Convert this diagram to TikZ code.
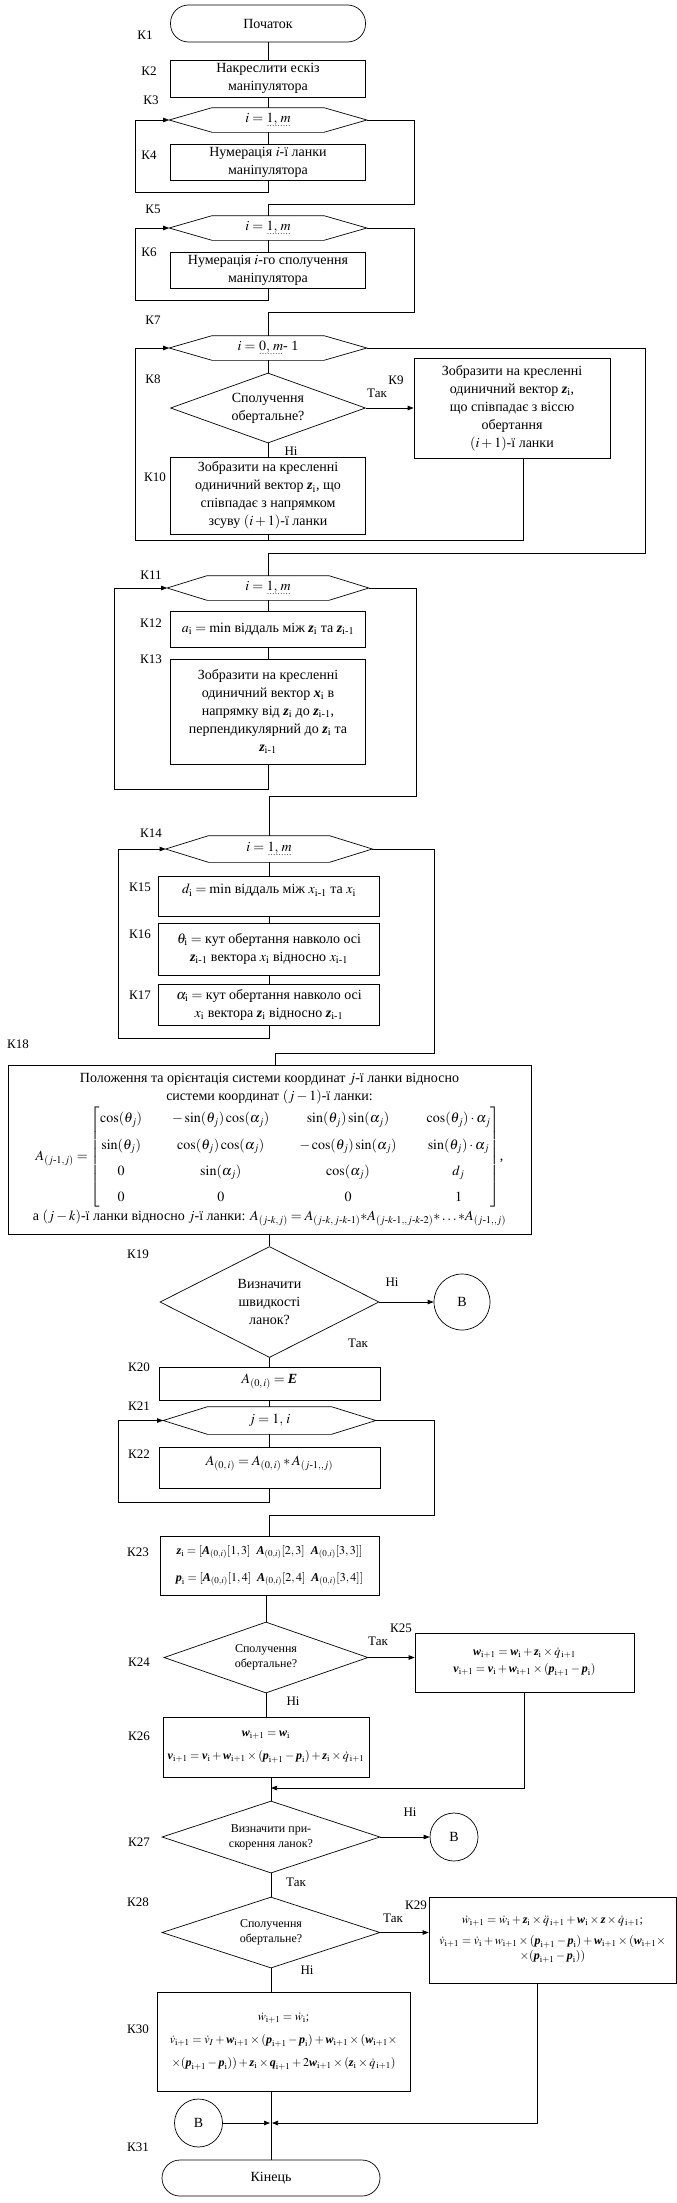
\documentclass[tikz,border=0pt]{standalone}
\usepackage{amsmath}
\usepackage{mathptmx}
\usepackage{fontspec}
\setmainfont{Liberation Serif}
\usetikzlibrary{arrows.meta,shapes.geometric}

\newcommand{\fsbig}{\fontsize{14}{18}\selectfont}
\newcommand{\fsmid}{\fontsize{13}{16}\selectfont}
\newcommand{\fssmall}{\fontsize{12}{15}\selectfont}
\newcommand{\bv}[1]{\mbox{\bfseries\itshape #1}}
\newcommand{\idx}{\mathrm{i}}
\newcommand{\hy}{\text{-}}
% dotted underline
\newcommand{\dotul}[1]{\setbox0=\hbox{#1}\leavevmode\rlap{\raisebox{-4pt}{\hbox to \wd0{\fontsize{8}{8}\selectfont\xleaders\hbox to 2.5pt{\hss.\hss}\hfil}}}\box0}
% hexagon round a plain node: #1 name, #2 point length
\newcommand{\hexa}[2]{%
  \draw (#1.north west) -- (#1.north east) -- ([xshift=#2pt]#1.east) coordinate (#1-r)
    -- (#1.south east) -- (#1.south west) -- ([xshift=-#2pt]#1.west) coordinate (#1-l) -- cycle;}

\tikzset{
  proc/.style={draw, align=center, inner sep=1pt, font=\fsbig},
  term/.style={proc, rounded corners=18pt},
  hexnode/.style={align=center, inner sep=0pt, minimum height=24, font=\fsbig},
  dec/.style={draw, diamond, align=center, inner sep=0pt, font=\fsbig},
  conn/.style={draw, circle, inner sep=0pt, minimum size=#1, font=\fsbig},
  klabel/.style={font=\fsmid, inner sep=0pt},
  yn/.style={font=\fsmid, inner sep=0pt},
  arr/.style={-{Triangle[length=6pt,width=4.5pt]}}
}

\begin{document}
\begin{tikzpicture}[x=1pt, y=-1pt, line width=0.7pt]
\useasboundingbox (0,0) rectangle (677,2203);

% block labels
\foreach \n/\x/\y in {1/145/35, 2/149/71, 3/151/100, 4/149/155, 5/153/209, 6/149/252,
  7/153/320, 8/153/379, 9/396/380, 10/155/477, 11/151/575, 12/151/623, 13/151/659,
  14/151/833, 15/140/887, 16/140/934, 17/140/995, 18/18/1044, 19/138/1254, 20/139/1367,
  21/139/1406, 22/139/1454, 23/138/1552, 24/139/1662, 25/401/1628, 26/139/1736,
  27/139/1842, 28/138/1902, 29/416/1905, 30/138/2029, 31/138/2147}
  \node[klabel] (lab\n) at (\x,\y) {К\n};

% start, sketch
\node[term, minimum width=195, minimum height=37] (K1) at (268,23.5) {Початок};
\node[proc, minimum width=195, minimum height=37] (K2) at (268,78.5) {Накреслити ескіз\\маніпулятора};
\draw (K1) -- (K2);

% numbering of links
\node[hexnode, minimum width=111] (K3) at (268,120) {$i =$ \dotul{$1,\, m$}};
\hexa{K3}{43}
\node[proc, minimum width=195, minimum height=36] (K4) at (268,162) {Нумерація $i$-ї ланки\\маніпулятора};
\draw (K2) -- (K3);
\draw (K3) -- (K4);
\coordinate (L3) at (135,192);
\draw[arr] (K4.south) |- (L3) |- (K3-l);

% numbering of joints
\node[hexnode, minimum width=111] (K5) at (268,228) {$i =$ \dotul{$1,\, m$}};
\hexa{K5}{43}
\coordinate (R3) at (414,204);
\draw (K3-r) -| (R3) -| (K5.north);
\node[proc, minimum width=195, minimum height=36] (K6) at (268,270) {Нумерація $i$-го сполучення\\маніпулятора};
\draw (K5) -- (K6);
\coordinate (L5) at (135,300);
\draw[arr] (K6.south) |- (L5) |- (K5-l);

% z axes
\node[hexnode, minimum width=111] (K7) at (268,348) {$i =$ \dotul{$0,\, m$} - 1};
\hexa{K7}{43}
\coordinate (R5) at (414,312);
\draw (K5-r) -| (R5) -| (K7.north);
\node[dec, aspect=2.79, minimum width=195, minimum height=70] (K8) at (268,408) {Сполучення\\обертальне?};
\draw (K7) -- (K8);
\node[proc, minimum width=196, minimum height=100] (K9) at (512,408) {Зобразити на кресленні\\одиничний вектор $\bv{z}_\idx$,\\що співпадає з віссю\\обертання\\$(i+1)$-ї ланки};
\draw[arr] (K8.east) -- (K9.west);
\node[yn] (yes8) at (377,393) {Так};
\node[proc, minimum width=195, minimum height=77] (K10) at (268,495.5) {Зобразити на кресленні\\одиничний вектор $\bv{z}_\idx$, що\\співпадає з напрямком\\зсуву $(i+1)$-ї ланки};
\draw (K8.south) -- (K10.north);
\node[yn] (no8) at (291,451) {Ні};
\coordinate (L7) at (135,540);
\draw ([xshift=11pt]K9.south) |- (L7);
\draw (K10.south) -- (K10.south |- L7);
\draw[arr] (L7) |- (K7-l);

% x axes
\node[hexnode, minimum width=121] (K11) at (268,588) {$i =$ \dotul{$1,\, m$}};
\hexa{K11}{40}
\coordinate (R7) at (645,553);
\draw (K7-r) -| (R7) -| (K11.north);
\node[proc, minimum width=195, minimum height=36] (K12) at (268,629) {$a_\idx = \min$ віддаль між $\bv{z}_\idx$ та $\bv{z}_{\idx\hy1}$};
\node[proc, minimum width=195, minimum height=105] (K13) at (268,711.5) {Зобразити на кресленні\\одиничний вектор $\bv{x}_\idx$ в\\напрямку від $\bv{z}_\idx$ до $\bv{z}_{\idx\hy1}$,\\перпендикулярний до $\bv{z}_\idx$ та\\$\bv{z}_{\idx\hy1}$};
\draw (K11) -- (K12);
\draw (K12) -- (K13);
\coordinate (L11) at (114,789);
\draw[arr] (K13.south) |- (L11) |- (K11-l);

% parameters
\node[hexnode, minimum width=120, minimum height=26] (K14) at (269,849) {$i =$ \dotul{$1,\, m$}};
\hexa{K14}{43}
\coordinate (R11) at (416,796);
\draw (K11-r) -| (R11) -| (K14.north);
\node[proc, minimum width=221, minimum height=40, text depth=14pt] (K15) at (269,896) {$d_\idx = \min$ віддаль між $x_{\idx\hy1}$ та $x_\idx$};
\node[proc, minimum width=221, minimum height=52] (K16) at (269,949) {$\theta_\idx =$ кут обертання навколо осі\\$\bv{z}_{\idx\hy1}$ вектора $x_\idx$ відносно $x_{\idx\hy1}$};
\node[proc, minimum width=221, minimum height=41] (K17) at (269,1004.5) {$\alpha_\idx =$ кут обертання навколо осі\\$x_\idx$ вектора $\bv{z}_\idx$ відносно $\bv{z}_{\idx\hy1}$};
\draw (K14) -- (K15);
\draw (K15) -- (K16);
\draw (K16) -- (K17);
\coordinate (L14) at (118,1038);
\draw[arr] (K17.south) |- (L14) |- (K14-l);

% transformation matrices
\node[proc, minimum width=523, minimum height=169] (K18) at (269.5,1149.5) {Положення та орієнтація системи координат $j$-ї ланки відносно\\системи координат $(j-1)$-ї ланки:\\
{\renewcommand{\arraystretch}{1.45}\setlength{\arraycolsep}{15pt}%
$A_{(j\hy1,j)} = \begin{bmatrix}
\cos(\theta_j) & -\sin(\theta_j)\cos(\alpha_j) & \sin(\theta_j)\sin(\alpha_j) & \cos(\theta_j)\cdot\alpha_j\\
\sin(\theta_j) & \cos(\theta_j)\cos(\alpha_j) & -\cos(\theta_j)\sin(\alpha_j) & \sin(\theta_j)\cdot\alpha_j\\
0 & \sin(\alpha_j) & \cos(\alpha_j) & d_j\\
0 & 0 & 0 & 1
\end{bmatrix}$,}\\
а $(j-k)$-ї ланки відносно $j$-ї ланки: $A_{(j\hy k,j)} = A_{(j\hy k,\,j\hy k\hy1)}{*}A_{(j\hy k\hy1,,j\hy k\hy2)}{*}\ldots{*}A_{(j\hy1,,j)}$};
\coordinate (R14) at (434,1053);
\draw (K14-r) -| (R14) -| ([xshift=6pt]K18.north);
\node[dec, aspect=1.97, minimum width=219, minimum height=111] (K19) at (269.5,1302) {Визначити\\швидкості\\ланок?};
\draw (K18.south) -- (K19.north);
\node[conn=56] (B1) at (462,1302) {В};
\draw[arr] (K19.east) -- (B1.west);
\node[yn] (no19) at (392,1282) {Ні};
\node[yn] (yes19) at (358,1343) {Так};

% velocities
\node[proc, minimum width=221, minimum height=33, text depth=10pt] (K20) at (269.5,1383.5) {$A_{(0,\,i)} = \bv{E}$};
\draw (K19.south) -- (K20.north);
\node[hexnode, minimum width=123, minimum height=27] (K21) at (269.5,1420.5) {$j = 1,\, i$};
\hexa{K21}{44.5}
\node[proc, minimum width=221, minimum height=41, text depth=14pt] (K22) at (269.5,1467.5) {$A_{(0,\,i)} = A_{(0,\,i)} * A_{(j\hy1,,j)}$};
\draw (K20) -- (K21);
\draw (K21) -- (K22);
\coordinate (L21) at (118,1502);
\draw[arr] (K22.south) |- (L21) |- (K21-l);
\node[proc, minimum width=219, minimum height=59, font=\fssmall] (K23) at (269.5,1565.5) {$\bv{z}_\idx = [\bv{A}_{(0,i)}[1,3]\ \ \bv{A}_{(0,i)}[2,3]\ \ \bv{A}_{(0,i)}[3,3]]$\\[12pt]$\bv{p}_\idx = [\bv{A}_{(0,i)}[1,4]\ \ \bv{A}_{(0,i)}[2,4]\ \ \bv{A}_{(0,i)}[3,4]]$};
\coordinate (R21) at (434,1515);
\draw (K21-r) -| (R21) -| (K23.north);
\node[dec, aspect=2.87, minimum width=204, minimum height=71, font=\fssmall] (K24) at (266,1657.5) {Сполучення\\обертальне?};
\draw (K24.north) -- (K24.north |- K23.south);
\node[proc, minimum width=219, minimum height=59, font=\fssmall] (K25) at (524.5,1662.5) {$\bv{w}_{\idx+1} = \bv{w}_\idx + \bv{z}_\idx \times \dot{q}_{\,\idx+1}$\\[2pt]$\bv{v}_{\idx+1} = \bv{v}_\idx + \bv{w}_{\idx+1} \times (\bv{p}_{\idx+1} - \bv{p}_\idx)$};
\draw[arr] (K24.east) -- (K24.east -| K25.west);
\node[yn] (yes24) at (378,1641) {Так};
\node[proc, minimum width=206, minimum height=60, font=\fssmall] (K26) at (266,1747) {$\bv{w}_{\idx+1} = \bv{w}_\idx$\\[8pt]$\bv{v}_{\idx+1} = \bv{v}_\idx + \bv{w}_{\idx+1} \times (\bv{p}_{\idx+1} - \bv{p}_\idx) + \bv{z}_\idx \times \dot{q}_{\,\idx+1}$};
\draw (K24.south) -- (K26.north);
\node[yn] (no24) at (293,1701) {Ні};

% accelerations
\node[dec, aspect=3.03, minimum width=218, minimum height=72, font=\fssmall] (K27) at (271,1837) {Визначити при-\\скорення ланок?};
\draw (K27.north) -- (K27.north |- K26.south);
\coordinate (J26) at (271,1788);
\draw[arr] (K25.south) |- (J26);
\node[conn=48] (B2) at (454,1837) {В};
\draw[arr] (K27.east) -- (B2.west);
\node[yn] (no27) at (410,1812) {Ні};
\node[dec, aspect=3.07, minimum width=218, minimum height=71, font=\fssmall] (K28) at (271,1932.5) {Сполучення\\обертальне?};
\draw (K27.south) -- (K28.north);
\node[yn] (yes27) at (296,1882) {Так};
\node[proc, minimum width=247, minimum height=86, font=\fssmall] (K29) at (552.5,1940) {$\dot{w}_{\idx+1} = \dot{w}_\idx + \bv{z}_\idx \times \ddot{q}_{\,\idx+1} + \bv{w}_\idx \times \bv{z} \times \dot{q}_{\,\idx+1}$;\\[6pt]$\dot{v}_{\idx+1} = \dot{v}_\idx + w_{\idx+1} \times (\bv{p}_{\idx+1} - \bv{p}_\idx) + \bv{w}_{\idx+1} \times (\bv{w}_{\idx+1} \times$\\$\times (\bv{p}_{\idx+1} - \bv{p}_\idx))$};
\draw[arr] (K28.east) -- (K28.east -| K29.west);
\node[yn] (yes28) at (393,1918) {Так};
\node[proc, minimum width=253, minimum height=99, font=\fssmall] (K30) at (283.5,2041.5) {$\dot{w}_{\idx+1} = \dot{w}_\idx$;\\[8pt]$\dot{v}_{\idx+1} = \dot{v}_I + \bv{w}_{\idx+1} \times (\bv{p}_{\idx+1} - \bv{p}_\idx) + \bv{w}_{\idx+1} \times (\bv{w}_{\idx+1} \times$\\[8pt]$\times (\bv{p}_{\idx+1} - \bv{p}_\idx)) + \bv{z}_\idx \times \bv{q}_{\idx+1} + 2\bv{w}_{\idx+1} \times (\bv{z}_\idx \times \dot{q}_{\,\idx+1})$};
\draw (K28.south) -- (K28.south |- K30.north);
\node[yn] (no28) at (307,1970) {Ні};

% end
\node[term, minimum width=218, minimum height=36] (K31) at (271,2178) {Кінець};
\draw (K28.south |- K30.south) -- (K31.north);
\coordinate (J30) at (271,2123);
\node[conn=48] (B3) at (198.5,2123) {В};
\draw[arr] (B3.east) -- ([xshift=-1pt]J30);
\draw[arr] ([xshift=-15pt]K29.south) |- ([xshift=1pt]J30);
\end{tikzpicture}
\end{document}
